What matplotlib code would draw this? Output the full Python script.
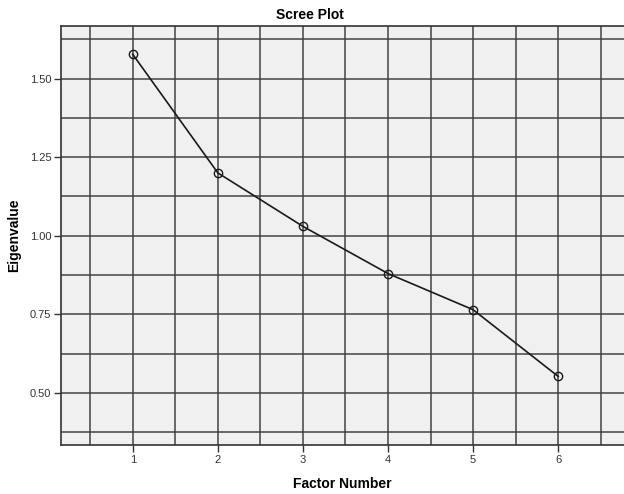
import numpy as np
from matplotlib import pyplot as plt
from matplotlib.ticker import MultipleLocator

plt.rcParams['font.family'] = ['Liberation Sans', 'DejaVu Sans']

factors = [1, 2, 3, 4, 5, 6]
eigenvalues = [1.577, 1.200, 1.030, 0.880, 0.765, 0.553]
y_ticks = [0.50, 0.75, 1.00, 1.25, 1.50]
y_tick_labels = ['0.50', '0.75', '1.00', '1.25', '1.50']

fig = plt.figure(figsize=(6.24, 4.94), dpi=100)
ax = fig.add_axes([61 / 624, 1 - 445 / 494, 1 - 61 / 624, (445 - 26) / 494])
ax.set_facecolor('#f0f0f0')

ax.set_xlim(0.157, 6.773)
ax.set_ylim(0.335, 1.667)

# grid: every 0.5 on x, every 0.125 on y
ax.xaxis.set_minor_locator(MultipleLocator(0.5))
ax.yaxis.set_minor_locator(MultipleLocator(0.125))
ax.grid(which='both', color='#404040', linewidth=1.2, alpha=0.9)
ax.set_axisbelow(True)

ax.set_xticks(factors)
ax.set_xticklabels([str(f) for f in factors])
ax.set_yticks(y_ticks)
ax.set_yticklabels(y_tick_labels)
ax.tick_params(which='major', length=5, width=1, color='#333333', labelsize=8, labelcolor='#333333', pad=2)
ax.tick_params(which='minor', length=0)

for side in ['left', 'bottom', 'top']:
    ax.spines[side].set_color('#333333')
    ax.spines[side].set_linewidth(1.2)
ax.spines['right'].set_visible(False)

ax.plot(factors, eigenvalues, color='#1a1a1a', linewidth=1.2, marker='o',
        markersize=6, markerfacecolor='none', markeredgecolor='#1a1a1a', markeredgewidth=1)

ax.set_title('Scree Plot', fontsize=10, fontweight='bold', pad=5, x=(310 - 61) / (624 - 61))
ax.set_xlabel('Factor Number', fontsize=10, fontweight='bold', labelpad=9)
ax.set_ylabel('Eigenvalue', fontsize=10, fontweight='bold', labelpad=6)

fig.savefig('out.png', dpi=100)
